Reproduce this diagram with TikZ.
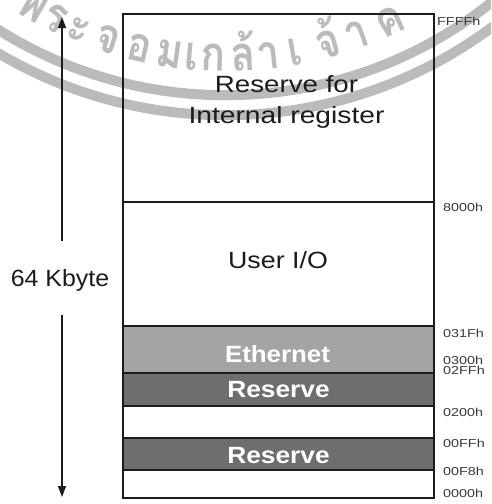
\documentclass[tikz,border=0pt]{standalone}
\usepackage{fontspec}
\setmainfont{Liberation Sans}
\newfontfamily\lblfont{Liberation Sans}[FakeStretch=1.25]
\newfontfamily\thaifont[Script=Thai]{Loma}
\usetikzlibrary{arrows.meta,calc}
\definecolor{wm}{HTML}{BBBBBB}
\definecolor{ethgray}{HTML}{A4A4A4}
\definecolor{resgray}{HTML}{6E6E6E}
\definecolor{ink}{HTML}{1C1C1C}
\definecolor{lblink}{HTML}{3A3A3A}
\begin{document}
\begin{tikzpicture}[x=1pt,y=-1pt,
  boxline/.style={draw=ink,line width=1.5pt},
  divline/.style={draw=ink,line width=1.3pt},
  bigtext/.style={font=\fontsize{23.5}{28}\selectfont,text=ink,inner sep=0pt,anchor=base},
  boldtext/.style={font=\bfseries\fontsize{23.5}{28}\selectfont,text=white,inner sep=0pt,anchor=base},
  addr/.style={font=\lblfont\fontsize{11.5}{12}\selectfont,text=lblink,inner sep=0pt,anchor=base west},
  wmtext/.style={font=\thaifont\bfseries\fontsize{48}{48}\selectfont,text=wm,inner sep=0pt,anchor=base},
  wmband/.style={draw=wm,line width=10pt},
  arr/.style={draw=ink,line width=1.2pt,-{Triangle[length=11pt,width=8pt]}}]
\useasboundingbox (0,0) rectangle (491,504);
\fill[white] (0,0) rectangle (491,504);
% watermark
\begin{scope}
  \clip (0,0) rectangle (491,504);
  \coordinate (C) at (225.6,-331.8);
  \draw[wmband] (C) circle (427);
  \draw[wmband] (C) circle (447);
  \foreach \a/\t [count=\i] in {119.7/พ,116.0/ร,112.2/ะ,107.6/จ,102.8/อ,98.3/ม,95.0/เ,91.8/ก,87.4/ล้,83.7/า,79.8/เ,74.7/จ้,70.3/า,65.0/ค}
    \node[wmtext,rotate={90-\a}] (w\i) at ([shift={(\a:403)}]C) {\scalebox{0.85}[1]{\t}};
\end{scope}
% regions
\fill[ethgray] (123,326) rectangle (434,373);
\fill[resgray] (123,373) rectangle (434,406);
\fill[resgray] (123,438) rectangle (434,470);
\foreach \yy in {202,326,373,406,438,470}
  \draw[divline] (123,\yy) -- (434,\yy);
\draw[boxline] (123,14) rectangle (434,498);
% texts
\node[bigtext] (rsv) at (286.5,92) {\scalebox{1.18}[1]{Reserve for}};
\node[bigtext] (intreg) at (286.5,123) {\scalebox{1.2}[1]{Internal register}};
\node[bigtext] (uio) at (278,268) {\scalebox{1.14}[1]{User I/O}};
\node[boldtext] (eth) at (277.5,362) {\scalebox{1.1}[1]{Ethernet}};
\node[boldtext] (res1) at (278.5,397) {\scalebox{1.12}[1]{Reserve}};
\node[boldtext] (res2) at (278.5,463) {\scalebox{1.12}[1]{Reserve}};
% addresses
\node[addr] (aFFFF) at (437,25) {FFFFh};
\node[addr] (a8000) at (443,211) {8000h};
\node[addr] (a031F) at (443,337) {031Fh};
\node[addr] (a0300) at (443,364) {0300h};
\node[addr] (a02FF) at (443,374) {02FFh};
\node[addr] (a0200) at (443,416) {0200h};
\node[addr] (a00FF) at (443,447) {00FFh};
\node[addr] (a00F8) at (443,475) {00F8h};
\node[addr] (a0000) at (443,497) {0000h};
% size arrow
\coordinate (top) at (62,17);
\coordinate (bot) at (62,497);
\node[bigtext,anchor=center,text depth=0pt,minimum height=74pt] (size) at (60,278) {\scalebox{1.06}[1]{64 Kbyte}};
\draw[arr] (size.north -| top) -- (top);
\draw[arr] (size.south -| bot) -- (bot);
\end{tikzpicture}
\end{document}
